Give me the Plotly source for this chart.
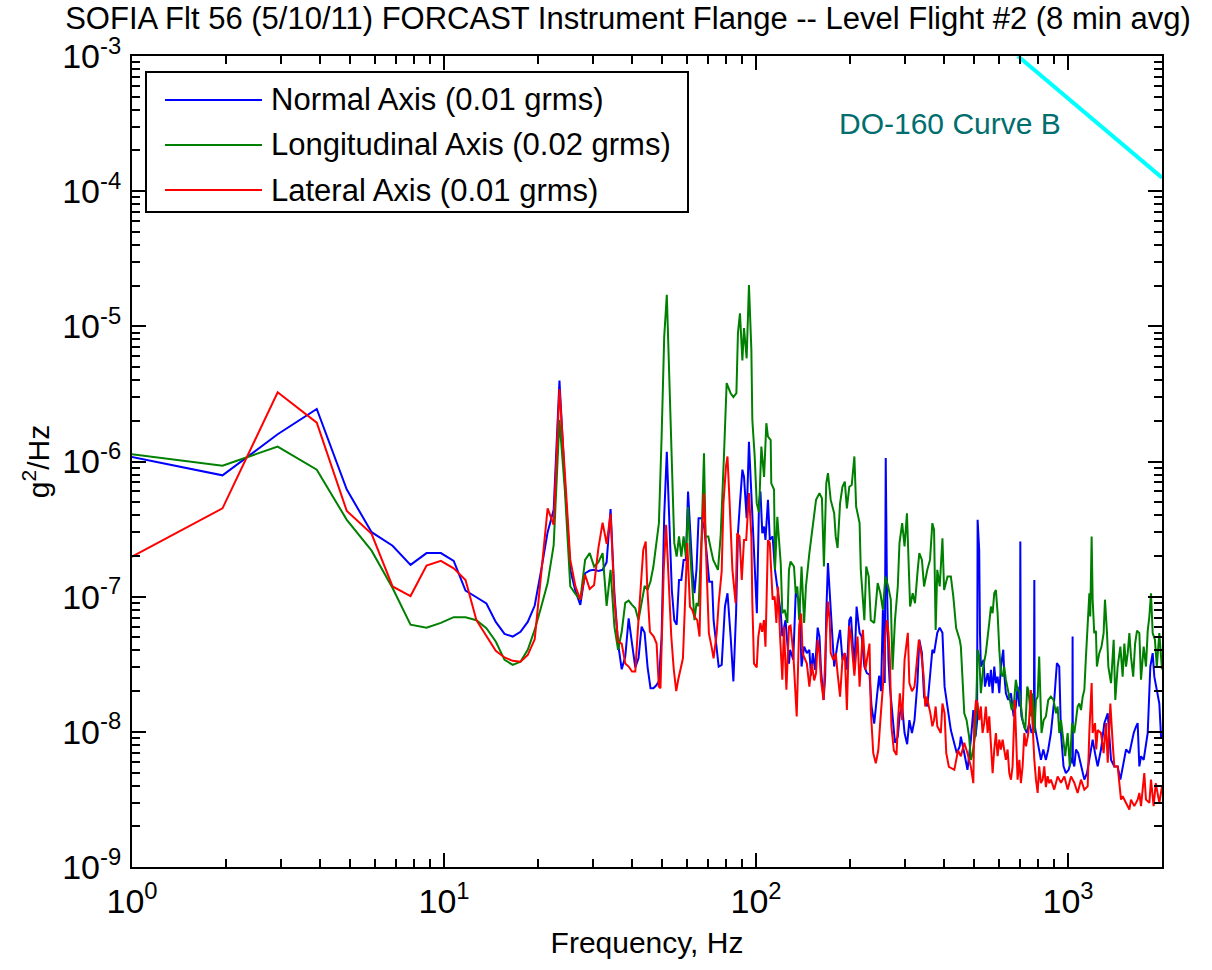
import plotly.graph_objects as go

# ---------------- data ----------------
normal_freq = [0.98, 1.95, 2.93, 3.91, 4.88, 5.86, 6.84, 7.81, 8.79, 9.77, 10.74, 11.72, 12.70, 13.67, 14.65,
               15.63, 16.60, 17.58, 18.55, 19.53, 20.51, 21.48, 22.46, 23.44, 24.41, 25.39, 26.37, 27.34, 28.32,
               29.30, 30.27, 31.25, 32.23, 33.20, 34.18, 35.16, 36.13, 37.11, 38.09, 39.06, 40.04, 41.02, 42.0,
               42.97, 43.95, 44.92, 45.90, 46.88, 47.85, 48.83, 49.80, 50.78, 51.76, 52.73, 53.71, 54.69, 55.66,
               56.64, 57.62, 58.59, 59.57, 60.55, 61.52, 62.50, 63.48, 64.45, 65.43, 66.9, 68.3, 70.8, 72.3, 73.1,
               75.9, 77.6, 79.5, 81.0, 82.9, 84.6, 86.3, 87.5, 88.8, 90.4, 91.5, 93.3, 94.9, 96.6, 99.0, 100.6,
               102.2, 103.3, 104.7, 106.1, 107.2, 109.2, 110.7, 113.0, 115.0, 117.0, 120.0, 121.4, 124.3, 127.5,
               128.6, 131.6, 134, 137.5, 139.9, 142.6, 145.5, 148.2, 150, 152, 154.6, 157.6, 159.7, 161.5, 164.6,
               166.6, 167.9, 170, 172.2, 175, 178, 182.5, 185.9, 189.2, 192.5, 195.5, 199, 201.5, 206.6, 210,
               214.7, 218, 222.4, 226.5, 231, 234.5, 239.2, 244, 248, 251.5, 255, 258.5, 260.4, 262.5, 265.7,
               268.5, 273.8, 278.8, 284.6, 289, 294, 299.2, 305, 310, 316, 322, 329, 333.6, 340.1, 345.5, 353.9,
               362, 367.3, 372, 380.9, 387.8, 395.7, 402, 410.9, 421, 428.8, 440, 449.4, 453.3, 464.9, 476, 488.1,
               497, 505.2, 511, 513, 519, 522, 525.5, 536, 541.5, 552.4, 559, 566, 573, 580, 587, 594.5, 602, 609,
               620, 624, 632, 643, 656, 669, 680, 689, 698, 701, 703, 706, 709, 724, 738, 751, 764, 777, 779.5, 782,
               789, 805, 818.5, 833, 849, 864, 881, 903, 921, 937, 949, 967, 984, 1004, 1022, 1032, 1034, 1036,
               1047, 1060, 1078, 1100, 1127.5, 1150, 1170, 1199, 1220, 1244, 1275, 1307, 1340, 1373, 1407, 1442,
               1471, 1496, 1534, 1572, 1599, 1623, 1650, 1671, 1692, 1713, 1747, 1777, 1800, 1835, 1867, 1890,
               1937, 1961, 1986, 2000]
normal_psd = [1.09e-6, 7.9e-7, 1.59e-6, 2.45e-6, 6.2e-7, 3.0e-7, 2.38e-7, 1.72e-7, 2.1e-7, 2.1e-7, 1.84e-7,
              1.11e-7, 9.9e-8, 8.9e-8, 6.5e-8, 5.3e-8, 5.07e-8, 5.5e-8, 6.5e-8, 8.6e-8, 1.6e-7, 3.0e-7, 4.4e-7,
              3.97e-6, 6.9e-7, 1.58e-7, 1.1e-7, 8.7e-8, 1.49e-7, 1.56e-7, 1.58e-7, 1.55e-7, 1.58e-7, 1.8e-7,
              4.45e-7, 1.06e-7, 4.5e-8, 2.9e-8, 3.6e-8, 6.9e-8, 4.5e-8, 3.0e-8, 3.5e-8, 6.0e-8, 5.4e-8, 3.0e-8,
              2.1e-8, 2.1e-8, 2.2e-8, 2.36e-8, 5.0e-8, 4.0e-7, 1.18e-6, 3.1e-7, 1.12e-7, 6.7e-8, 6.2e-8, 1.33e-7,
              1.33e-7, 1.87e-7, 1.87e-7, 6.0e-7, 2.79e-7, 1.58e-7, 1.06e-7, 1.6e-7, 3.8e-7, 3.8e-7, 3.2e-7,
              1.29e-7, 1.29e-7, 6.7e-8, 3.04e-8, 3.13e-8, 8.45e-8, 1.06e-7, 5.07e-8, 2.36e-8, 7.55e-8, 2.95e-7,
              4.9e-7, 8.7e-7, 7.7e-7, 3.8e-7, 1.4e-6, 6.0e-7, 1.77e-7, 7.55e-8, 4.9e-7, 6.0e-7, 2.95e-7, 3.3e-7,
              2.63e-7, 5.2e-7, 2.63e-7, 2.79e-7, 1.58e-7, 1.19e-7, 7.55e-8, 5.1e-8, 6.7e-8, 3.2e-8, 4.05e-8,
              3.41e-8, 1.06e-7, 9.5e-8, 3.04e-8, 4.27e-8, 3.82e-8, 4.05e-8, 2.6e-8, 3.82e-8, 2.88e-8, 5.9e-8,
              5.07e-8, 2.88e-8, 1.72e-8, 2.6e-8, 7.5e-8, 1.77e-7, 1.06e-7, 6.7e-8, 3.04e-8, 4.5e-8, 5.68e-8,
              3.41e-8, 3.82e-8, 2.88e-8, 6.7e-8, 7.1e-8, 2.88e-8, 8.45e-8, 5.4e-8, 5.07e-8, 3.04e-8, 2.72e-8,
              2.65e-8, 1.54e-8, 1.15e-8, 1.82e-8, 2.6e-8, 2.0e-8, 8.0e-8, 2.3e-8, 1.06e-6, 1.41e-7, 3.41e-8,
              2.16e-8, 1.37e-8, 8.3e-9, 9.2e-9, 1.37e-8, 1.54e-8, 9.8e-9, 8.1e-9, 1.22e-8, 9.8e-9, 1.22e-8,
              2.3e-8, 4.8e-8, 3.82e-8, 1.82e-8, 1.54e-8, 2.6e-8, 4.05e-8, 3.82e-8, 5.4e-8, 5.9e-8, 5.4e-8,
              2.16e-8, 1.45e-8, 1.03e-8, 8.75e-9, 6.95e-9, 7.8e-9, 9.2e-9, 6.95e-9, 5.24e-9, 8.75e-9, 1.45e-8,
              9.2e-9, 1.2e-8, 3.7e-7, 2.2e-7, 5.37e-8, 3.04e-8, 3.41e-8, 2.16e-8, 2.72e-8, 2.16e-8, 2.88e-8,
              1.93e-8, 3.04e-8, 2.29e-8, 2.56e-8, 1.93e-8, 3.04e-8, 4.05e-8, 2.72e-8, 1.93e-8, 1.72e-8, 1.93e-8,
              1.3e-8, 1.54e-8, 2.16e-8, 1.54e-8, 1.6e-8, 2.56e-7, 1.5e-8, 1.3e-8, 1.09e-8, 9.8e-9, 1.16e-8,
              9.8e-9, 1.1e-8, 1.33e-7, 1.1e-8, 9.8e-9, 7.4e-9, 6.2e-9, 7.4e-9, 6.2e-9, 7.4e-9, 9.8e-9, 1.72e-8,
              3.22e-8, 3.04e-8, 9.8e-9, 5.55e-9, 4.95e-9, 5.24e-9, 6.2e-9, 6.5e-9, 5.07e-8, 6.0e-9, 5.55e-9,
              7.4e-9, 6.95e-9, 5.55e-9, 4.43e-9, 4.95e-9, 6.2e-9, 8.75e-9, 6.95e-9, 5.55e-9, 7.4e-9, 1.16e-8,
              1.37e-8, 6.2e-9, 5.55e-9, 5.55e-9, 4.43e-9, 5.55e-9, 7.4e-9, 6.95e-9, 8.25e-9, 9.8e-9, 1.09e-8,
              1.16e-8, 5.55e-9, 6.6e-9, 6.2e-9, 8.25e-9, 9.8e-9, 3.04e-8, 3.82e-8, 2.56e-8, 1.82e-8, 1.62e-8,
              9.2e-9, 9.2e-9]

longitudinal_freq = [0.98, 1.95, 2.93, 3.91, 4.88, 5.86, 6.84, 7.81, 8.79, 9.77, 10.74, 11.72, 12.70, 13.67,
                     14.65, 15.63, 16.60, 17.58, 18.55, 19.53, 20.51, 21.48, 22.46, 23.44, 24.41, 25.39, 26.37,
                     27.34, 28.32, 29.30, 30.27, 31.25, 32.23, 33.20, 34.18, 35.16, 36.13, 37.11, 38.09, 39.06,
                     40.04, 41.02, 42.0, 42.97, 43.95, 44.92, 45.90, 46.88, 47.85, 48.83, 49.80, 50.78, 51.76,
                     52.73, 53.71, 54.69, 55.66, 56.64, 57.62, 58.59, 59.57, 60.55, 61.52, 62.50, 63.48, 64.45,
                     65.43, 66.9, 68.1, 68.9, 70.3, 71.5, 72.9, 75.5, 77.0, 78.9, 80.5, 82.9, 84.6, 86.5, 87.5,
                     88.8, 90.4, 91.5, 93.3, 94.9, 96.6, 97.3, 99.0, 100.5, 102.2, 104.0, 106.1, 107.9, 109.2,
                     111.4, 111.9, 114.2, 115.0, 117.0, 120.0, 121.4, 123.5, 126.0, 127.5, 129, 132.3, 134,
                     135.6, 137.5, 139.9, 142.6, 144.5, 148.2, 152, 155.7, 159.7, 162.6, 165, 167.9, 170, 173.5,
                     178, 180, 182.5, 185.9, 189.2, 192.5, 195.5, 199, 202.6, 206.6, 209.3, 214.7, 216.6, 222.4,
                     225.5, 229.6, 233.2, 239.2, 245.4, 250.3, 255, 259.7, 265.2, 270.3, 273.8, 278.8, 284.6,
                     288.2, 294, 299.2, 304.5, 308.5, 311.7, 317.7, 323.2, 329.7, 333.6, 340.1, 345.5, 353.9, 361,
                     367.3, 372, 376.4, 380.9, 387.8, 395.7, 400.6, 410.9, 421, 428.8, 437.8, 449.4, 453.3, 458.9,
                     464.9, 472.9, 481.8, 488.1, 494.4, 505, 513, 519, 525.5, 535, 545, 559, 566, 573, 580, 587,
                     594.5, 602, 609, 617, 624, 632, 640, 648, 660, 672, 680, 689, 698, 706, 715, 729, 740, 746,
                     760, 770, 779.5, 789, 799, 808, 822, 835, 849, 864, 881, 898, 915, 926, 937, 949, 967, 979,
                     997, 1013, 1030, 1047, 1060, 1073, 1086, 1100, 1114, 1127.5, 1141, 1156, 1170, 1178, 1190,
                     1199, 1213, 1228, 1237, 1259, 1280, 1300, 1313, 1333, 1346, 1373, 1400, 1417, 1442, 1471,
                     1496, 1515, 1534, 1553, 1572, 1591, 1617, 1640, 1663, 1692, 1713, 1747, 1777, 1800, 1822,
                     1844, 1867, 1898, 1925, 1961, 1986, 2000]
longitudinal_psd = [1.14e-6, 9.3e-7, 1.29e-6, 8.7e-7, 3.7e-7, 2.19e-7, 1.16e-7, 6.2e-8, 5.9e-8, 6.4e-8,
                    7.05e-8, 7.05e-8, 6.7e-8, 5.85e-8, 4.66e-8, 3.41e-8, 3.13e-8, 3.3e-8, 4.05e-8, 5.7e-8, 8.5e-8,
                    1.26e-7, 2.4e-7, 2.03e-6, 6.0e-7, 1.19e-7, 1.05e-7, 9.5e-8, 1.87e-7, 2.1e-7, 1.67e-7, 1.8e-7,
                    2.1e-7, 8.55e-8, 1.58e-7, 6.0e-8, 4.05e-8, 5.5e-8, 9.0e-8, 9.35e-8, 8.7e-8, 8.2e-8, 6.7e-8,
                    9.0e-8, 1.2e-7, 1.12e-7, 1.3e-7, 1.67e-7, 2.5e-7, 3.5e-7, 1.5e-6, 8.4e-6, 1.71e-5, 4.0e-6,
                    8.0e-7, 2.5e-7, 1.98e-7, 2.79e-7, 1.98e-7, 2.79e-7, 1.98e-7, 4.6e-7, 2.1e-7, 1.26e-7, 6.7e-8,
                    8.95e-8, 8.5e-8, 2.79e-7, 1.15e-6, 2.79e-7, 2.79e-7, 2.3e-7, 1.87e-7, 1.58e-7, 2.79e-7,
                    1.09e-6, 3.8e-6, 3.2e-6, 3.0e-6, 3.2e-6, 8.9e-6, 1.25e-5, 5.6e-6, 9.7e-6, 5.8e-6, 2.02e-5,
                    6.7e-6, 2.03e-6, 1.09e-6, 4.9e-7, 4.2e-7, 1.29e-6, 7.7e-7, 1.92e-6, 1.53e-6, 1.44e-6, 6.9e-7,
                    6.2e-7, 1.58e-7, 3.9e-7, 1.75e-7, 7.55e-8, 8.0e-8, 6.4e-8, 1.58e-7, 1.82e-7, 1.67e-7, 1.06e-7,
                    1.19e-7, 6.7e-8, 1.67e-7, 6.4e-8, 1.19e-7, 2.1e-7, 3.3e-7, 5.2e-7, 5.83e-7, 5.35e-7, 1.67e-7,
                    6.9e-7, 8.2e-7, 5.2e-7, 4.14e-7, 2.79e-7, 2.29e-7, 4.9e-7, 6.5e-7, 7.1e-7, 4.5e-7, 6.5e-7,
                    6.7e-7, 1.09e-6, 4.64e-7, 3.5e-7, 1.58e-7, 6.7e-8, 1.67e-7, 1.41e-7, 6.7e-8, 6.4e-8, 1.26e-7,
                    1.06e-7, 8.0e-8, 1.41e-7, 1.19e-7, 9.5e-8, 2.88e-8, 6.7e-8, 1.19e-7, 2.49e-7, 3.5e-7, 2.35e-7,
                    4.14e-7, 1.58e-7, 8.45e-8, 1.06e-7, 8.95e-8, 1.58e-7, 2.1e-7, 1.87e-7, 1.19e-7, 1.58e-7,
                    1.87e-7, 3.5e-7, 3.12e-7, 5.68e-8, 1.58e-7, 1.19e-7, 2.7e-7, 1.12e-7, 1.41e-7, 1.41e-7, 1.0e-7,
                    5.85e-8, 4.8e-8, 4.27e-8, 2.16e-8, 1.37e-8, 1.22e-8, 9.2e-9, 6.2e-9, 6.95e-9, 9.8e-9, 4.05e-8,
                    3.6e-8, 1.93e-8, 3.04e-8, 3.82e-8, 6.4e-8, 8.45e-8, 7.55e-8, 1.06e-7, 1.12e-7, 7.55e-8, 4.05e-8,
                    2.72e-8, 2.56e-8, 3.04e-8, 2.43e-8, 2.04e-8, 1.82e-8, 1.45e-8, 1.72e-8, 2.43e-8, 2.04e-8,
                    2.0e-8, 1.62e-8, 1.22e-8, 1.03e-8, 2.16e-8, 2.04e-8, 1.3e-8, 1.93e-8, 9.8e-9, 1.72e-8, 1.82e-8,
                    3.6e-8, 9.8e-9, 1.22e-8, 1.3e-8, 1.72e-8, 1.82e-8, 1.72e-8, 1.37e-8, 1.54e-8, 9.8e-9, 1.22e-8,
                    8.25e-9, 6.6e-9, 9.8e-9, 5.55e-9, 1.16e-8, 9.8e-9, 1.22e-8, 1.54e-8, 1.62e-8, 1.45e-8, 1.82e-8,
                    2.04e-8, 3.6e-8, 7.13e-8, 1.06e-7, 7.13e-8, 2.79e-7, 9.5e-8, 5.37e-8, 5.6e-8, 3.04e-8, 3.82e-8,
                    4.27e-8, 5.37e-8, 9.5e-8, 5.37e-8, 3.04e-8, 2.29e-8, 4.8e-8, 1.72e-8, 3.04e-8, 4.27e-8, 2.56e-8,
                    4.5e-8, 3.04e-8, 3.82e-8, 5.37e-8, 3.6e-8, 2.56e-8, 4.5e-8, 5.6e-8, 5.37e-8, 2.43e-8, 4.27e-8,
                    3.04e-8, 5.6e-8, 7.13e-8, 1.06e-7, 5.37e-8, 4.8e-8, 3.04e-8, 5.37e-8, 3.82e-8, 2.9e-8]

lateral_freq = [0.98, 1.95, 2.93, 3.91, 4.88, 5.86, 6.84, 7.81, 8.79, 9.77, 10.74, 11.72, 12.70, 13.67, 14.65,
                15.63, 16.60, 17.58, 18.55, 19.53, 20.51, 21.48, 22.46, 23.44, 24.41, 25.39, 26.37, 27.34, 28.32,
                29.30, 30.27, 31.25, 32.23, 33.20, 34.18, 35.16, 36.13, 37.11, 38.09, 39.06, 40.04, 41.02, 41.8,
                42.6, 43.5, 44.3, 44.8, 45.7, 47.0, 48.0, 48.8, 49.4, 50.0, 50.6, 51.5, 52.6, 53.5, 54.5, 55.5,
                56.3, 57.3, 58.3, 59.2, 60.2, 61.4, 62.4, 63.5, 64.8, 65.9, 66.9, 68.1, 69.3, 70.6, 72.0, 73.1,
                74.8, 75.9, 77.6, 78.6, 80.1, 81.0, 82.3, 84.0, 86.0, 87.0, 88.5, 90.0, 91.5, 93.0, 94.9, 96.6,
                97.3, 98.5, 100.5, 101.7, 103.3, 104.6, 106.0, 107.2, 109.2, 110.7, 113.0, 114.7, 116.2, 117.6,
                119.4, 121.4, 122.9, 125.1, 127.5, 129, 131.6, 133.2, 135, 137.5, 139.5, 141, 143.5, 145.5,
                148.2, 150.8, 153.6, 155.7, 157.6, 159.7, 161.5, 164.6, 167.9, 170, 172.2, 173.5, 177, 180,
                182.5, 185.9, 189.2, 192.5, 195.5, 199, 201.5, 204, 206.6, 209.3, 211.5, 214.7, 220, 224, 228,
                231, 233.2, 237.5, 242, 246.5, 250.3, 255, 259.7, 262.5, 265.7, 268.5, 271.5, 276.5, 282, 285,
                289, 294, 299.2, 306.5, 310, 316, 322, 332.5, 338.3, 344.5, 348.5, 352.5, 362, 367.3, 372,
                376.4, 380.9, 391, 395.7, 402, 407, 415, 432, 444, 453.3, 464.9, 476, 488.1, 497, 500.5, 507,
                513, 519, 525.5, 532, 538.7, 545, 552.4, 559, 566, 573, 580, 587, 594.5, 602, 609, 617, 624,
                632, 640, 648, 656, 664, 675, 680, 689, 698, 706, 715, 724, 733, 746, 760, 770, 779.5, 789, 799,
                808, 818.5, 829, 839, 849, 860, 870, 881, 903, 926, 949, 973, 997, 1022, 1047, 1073, 1100,
                1127.5, 1155.6, 1170, 1190, 1199, 1220, 1231, 1244, 1275, 1300, 1323, 1340, 1366, 1392, 1407,
                1442, 1460, 1478, 1496, 1534, 1572, 1591, 1630, 1671, 1692, 1713, 1755, 1777, 1822, 1844, 1880,
                1910, 1937, 1961, 2000]
lateral_psd = [1.93e-7, 4.5e-7, 3.25e-6, 1.94e-6, 4.3e-7, 2.92e-7, 1.19e-7, 1.01e-7, 1.70e-7, 1.84e-7, 1.62e-7,
               1.33e-7, 6.7e-8, 5.1e-8, 3.97e-8, 3.55e-8, 3.35e-8, 3.3e-8, 3.7e-8, 4.85e-8, 1.5e-7, 4.5e-7,
               3.4e-7, 3.43e-6, 8.0e-7, 1.87e-7, 1.19e-7, 9.5e-8, 1.45e-7, 1.14e-7, 1.22e-7, 2.3e-7, 3.53e-7,
               2.46e-7, 4.1e-7, 9.5e-8, 4.65e-8, 4.5e-8, 3.2e-8, 3.04e-8, 2.79e-8, 2.79e-8, 5.7e-8, 1.12e-7,
               2.22e-7, 2.56e-7, 1.19e-7, 5.5e-8, 5.07e-8, 4.5e-8, 2.16e-8, 2.1e-8, 5.07e-8, 1.58e-7, 3.4e-7,
               1.12e-7, 5.07e-8, 2.88e-8, 2.0e-8, 2.43e-8, 2.88e-8, 3.5e-8, 8.95e-8, 2.49e-7, 8.45e-8, 8.0e-8,
               7.1e-8, 6.7e-8, 5.07e-8, 2.49e-7, 5.8e-7, 2.1e-7, 5.37e-8, 4.27e-8, 3.5e-8, 5.37e-8, 8.95e-8,
               1.54e-7, 4.9e-7, 9.2e-7, 1.09e-6, 4.9e-7, 1.58e-7, 8.95e-8, 2.95e-7, 2.79e-7, 1.33e-7, 2.63e-7,
               2.63e-7, 5.83e-7, 2.79e-7, 8.95e-8, 3.2e-8, 3.0e-8, 5.07e-8, 6.4e-8, 5.5e-8, 6.7e-8, 4.27e-8,
               2.63e-7, 2.49e-7, 9.5e-8, 1.0e-7, 6.4e-8, 1.19e-7, 5.1e-8, 2.43e-8, 6.0e-8, 2.05e-8, 6.0e-8,
               6.1e-8, 3.82e-8, 2.16e-8, 1.3e-8, 6.1e-8, 7.5e-8, 3.8e-8, 3.4e-8, 3.2e-8, 2.16e-8, 3.2e-8, 2.4e-8,
               2.72e-8, 4.8e-8, 3.82e-8, 2.4e-8, 1.72e-8, 5.4e-8, 9.2e-8, 6.7e-8, 3.82e-8, 3.41e-8, 3.82e-8,
               2.72e-8, 1.82e-8, 3.41e-8, 3.82e-8, 1.45e-8, 6.1e-8, 5.07e-8, 3.41e-8, 2.6e-8, 3.82e-8, 5.07e-8,
               2.16e-8, 5.68e-8, 2.88e-8, 3.82e-8, 4.5e-8, 1.45e-8, 6.95e-9, 5.85e-9, 7.3e-9, 1.22e-8, 2.16e-8,
               5.07e-8, 6.7e-8, 5.4e-8, 3.41e-8, 1.1e-8, 7.3e-9, 6.75e-9, 1.22e-8, 1.93e-8, 1.22e-8, 3.41e-8,
               5.4e-8, 2.3e-8, 2.0e-8, 2.16e-8, 4.8e-8, 3.82e-8, 2.6e-8, 1.54e-8, 1.82e-8, 1.37e-8, 1.1e-8,
               1.22e-8, 1.54e-8, 1.1e-8, 9.8e-9, 1.62e-8, 1.37e-8, 6.95e-9, 5.5e-9, 5.24e-9, 7.3e-9, 6.6e-9,
               8.3e-9, 6.95e-9, 5.5e-9, 4.17e-9, 1.22e-8, 1.72e-8, 1.62e-8, 1.22e-8, 1.54e-8, 9.8e-9, 1.16e-8,
               1.54e-8, 9.8e-9, 1.3e-8, 8.75e-9, 4.95e-9, 7.4e-9, 9.8e-9, 6.6e-9, 8.75e-9, 7.4e-9, 8.75e-9,
               7.4e-9, 6.2e-9, 7.4e-9, 4.95e-9, 4.43e-9, 5.55e-9, 1.72e-8, 9.8e-9, 4.43e-9, 6.2e-9, 4.17e-9,
               5.55e-9, 9.8e-9, 7.8e-9, 9.8e-9, 2.04e-8, 9.8e-9, 6.2e-9, 4.43e-9, 3.53e-9, 5.55e-9, 4.17e-9,
               4.43e-9, 5.55e-9, 3.9e-9, 4.7e-9, 4.17e-9, 4.43e-9, 3.74e-9, 4.68e-9, 4.2e-9, 4.68e-9, 3.74e-9,
               4.68e-9, 4.2e-9, 3.53e-9, 4.43e-9, 3.74e-9, 3.95e-9, 1.0e-8, 2.3e-8, 9.8e-9, 1.16e-8, 7.4e-9,
               1.03e-8, 9.8e-9, 6.95e-9, 1.16e-8, 5.9e-9, 1.62e-8, 7.8e-9, 5.55e-9, 5.55e-9, 4.17e-9, 3.15e-9,
               3.34e-9, 2.98e-9, 2.66e-9, 3.15e-9, 2.82e-9, 3.15e-9, 3.53e-9, 2.82e-9, 4.95e-9, 3.15e-9,
               2.98e-9, 4.43e-9, 2.82e-9, 4.17e-9, 3.53e-9, 2.98e-9, 3.95e-9]

do160_freq = [690, 2000]
do160_psd = [1.0e-3, 1.26e-4]

series_names = ["Normal Axis (0.01 grms)", "Longitudinal Axis (0.02 grms)", "Lateral Axis (0.01 grms)"]
series_colors = ["#0000ff", "#008000", "#ff0000"]

x_tick_vals = [1, 10, 100, 1000]
x_tick_text = ["10<sup>0</sup>", "10<sup>1</sup>", "10<sup>2</sup>", "10<sup>3</sup>"]
y_tick_vals = [1e-9, 1e-8, 1e-7, 1e-6, 1e-5, 1e-4, 1e-3]
y_tick_text = ["10<sup>-9</sup>", "10<sup>-8</sup>", "10<sup>-7</sup>", "10<sup>-6</sup>",
               "10<sup>-5</sup>", "10<sup>-4</sup>", "10<sup>-3</sup>"]

title_text = "SOFIA Flt 56 (5/10/11) FORCAST Instrument Flange -- Level Flight #2 (8 min avg)"

# ---------------- figure ----------------
FONT = "Liberation Sans, Arial, Helvetica, sans-serif"
fig = go.Figure()

all_freq = [normal_freq, longitudinal_freq, lateral_freq]
all_psd = [normal_psd, longitudinal_psd, lateral_psd]
for f, p, n, c in zip(all_freq, all_psd, series_names, series_colors):
    fig.add_trace(go.Scatter(x=f, y=p, mode="lines", name=n, showlegend=False,
                             line=dict(color=c, width=2)))

fig.add_trace(go.Scatter(x=do160_freq, y=do160_psd, mode="lines", name="DO-160 Curve B",
                         showlegend=False, line=dict(color="#00ffff", width=4)))

minor_x = [m * 10 ** e for e in range(0, 4) for m in range(2, 10) if m * 10 ** e < 2000]
minor_y = [m * 10.0 ** e for e in range(-9, -3) for m in range(2, 10)]

axis_common = dict(type="log", showline=True, linewidth=2, linecolor="black", mirror="allticks",
                   ticks="inside", ticklen=14, tickwidth=1.5, tickcolor="black", showgrid=False,
                   zeroline=False, tickfont=dict(family=FONT, size=34, color="black"))

fig.update_xaxes(range=[0, 3.30103], tickmode="array", tickvals=x_tick_vals, ticktext=x_tick_text,
                 minor=dict(tickmode="array", tickvals=minor_x, ticks="inside", ticklen=8,
                            tickwidth=1.5, tickcolor="black", showgrid=False),
                 title=dict(text="Frequency, Hz", font=dict(family=FONT, size=30, color="black"),
                            standoff=13),
                 ticklabelstandoff=3, **axis_common)
fig.update_yaxes(range=[-9, -3], tickmode="array", tickvals=y_tick_vals, ticktext=y_tick_text,
                 minor=dict(tickmode="array", tickvals=minor_y, ticks="inside", ticklen=8,
                            tickwidth=1.5, tickcolor="black", showgrid=False),
                 title=dict(text="g<sup>2</sup>/Hz", font=dict(family=FONT, size=30, color="black"),
                            standoff=4),
                 ticklabelstandoff=2, **axis_common)

# ---------------- manual legend (box, line samples, labels) ----------------
PL, PR, PT, PB = 132, 1162, 56, 867


def px(x):
    return (x - PL) / (PR - PL)


def py(y):
    return (PB - y) / (PB - PT)


fig.add_shape(type="rect", xref="paper", yref="paper", x0=px(146), x1=px(688), y0=py(212), y1=py(72),
              line=dict(color="black", width=2), fillcolor="white", layer="above")
row_y = [100, 145, 190]
for ry, n, c in zip(row_y, series_names, series_colors):
    fig.add_shape(type="line", xref="paper", yref="paper", x0=px(165), x1=px(262), y0=py(ry), y1=py(ry),
                  line=dict(color=c, width=2), layer="above")
    fig.add_annotation(xref="paper", yref="paper", x=px(269), y=py(ry), text=n, showarrow=False,
                       xanchor="left", yanchor="middle", font=dict(family=FONT, size=31, color="black"))

fig.add_annotation(xref="paper", yref="paper", x=px(950), y=py(123), text="DO-160 Curve B", showarrow=False,
                   xanchor="center", yanchor="middle", font=dict(family=FONT, size=30, color="#006e6e"))

fig.update_layout(
    width=1212, height=970,
    margin=dict(l=PL, r=1212 - PR, t=PT, b=970 - PB),
    paper_bgcolor="white", plot_bgcolor="white",
    title=dict(text=title_text, x=628 / 1212, xref="container", xanchor="center",
               y=1 - 18 / 970, yref="container", yanchor="middle",
               font=dict(family=FONT, size=31, color="black")),
    showlegend=False,
)

fig.write_html("out.html")
